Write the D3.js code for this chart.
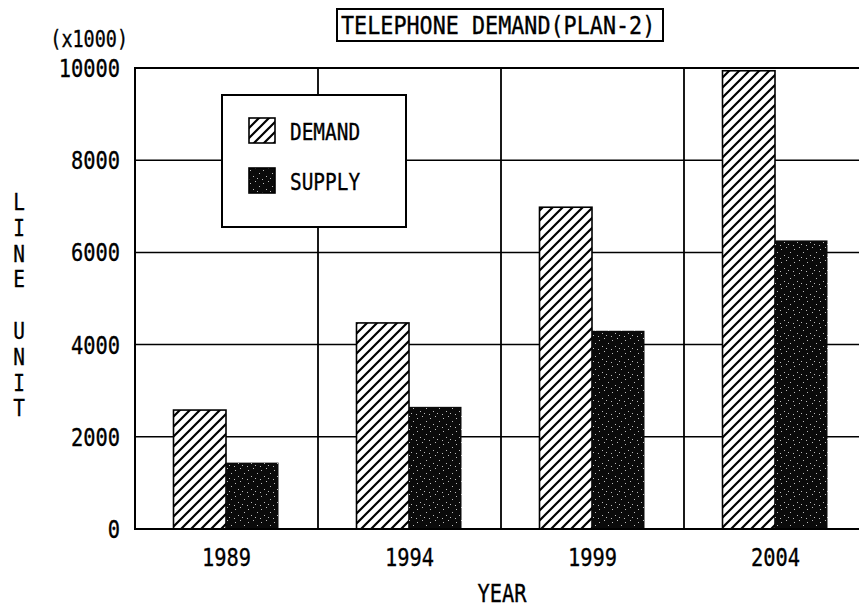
<!DOCTYPE html>
<html>
<head>
<meta charset="utf-8">
<script src="https://cdn.jsdelivr.net/npm/d3@7"></script>
<style>
  body { margin: 0; background: #fff; }
  text { font-family: "DejaVu Sans Mono", monospace; fill: #000; stroke: #000; stroke-width: 0.3; }
</style>
</head>
<body>
<svg id="chart" width="859" height="606"></svg>
<script>
// values (x1000 line units)
var years = ["1989", "1994", "1999", "2004"];
var demand = [2580, 4470, 6980, 9940];
var supply = [1440, 2650, 4300, 6260];
var yTicks = [0, 2000, 4000, 6000, 8000, 10000];
var seriesNames = ["DEMAND", "SUPPLY"];

var svg = d3.select("#chart");

var x = d3.scaleBand().domain(years).range([135, 867]);
var xi = d3.scaleBand().domain(["d", "s"]).range([38.5, 143.5]);
var y = d3.scaleLinear().domain([0, 10000]).range([529, 68]);

// plotter text is tall and narrow, stretch it a bit
function tall(sel, sx, sy) {
  return sel.attr("transform", function(d, i) {
    var px = typeof sx == "function" ? sx(d, i) : sx;
    var py = typeof sy == "function" ? sy(d, i) : sy;
    return "translate(" + px + "," + py + ") scale(0.97,1.18)";
  });
}

// patterns
var defs = svg.append("defs");
var hatch = defs.append("pattern")
  .attr("id", "hatch")
  .attr("patternUnits", "userSpaceOnUse")
  .attr("width", 10).attr("height", 10);
hatch.append("rect").attr("width", 10).attr("height", 10).attr("fill", "#fff");
hatch.append("path")
  .attr("d", "M0,10 L10,0 M-3,3 L3,-3 M7,13 L13,7")
  .attr("stroke", "#000").attr("stroke-width", 2.2);

var dots = defs.append("pattern")
  .attr("id", "dots")
  .attr("patternUnits", "userSpaceOnUse")
  .attr("width", 13).attr("height", 13);
dots.append("rect").attr("width", 13).attr("height", 13).attr("fill", "#0a0a0a");
[[1, 2], [6, 0], [10, 5], [4, 8], [0, 11], [8, 10]].forEach(function(p) {
  dots.append("rect").attr("x", p[0]).attr("y", p[1])
    .attr("width", 1).attr("height", 1).attr("fill", "#bbb");
});

// grid
svg.append("g").selectAll("line")
  .data(yTicks.filter(function(d) { return d > 0; }))
  .join("line")
  .attr("x1", 135).attr("x2", 867)
  .attr("y1", function(d) { return y(d); })
  .attr("y2", function(d) { return y(d); })
  .attr("stroke", "#000")
  .attr("stroke-width", function(d) { return d == 10000 ? 2 : 1.5; });

svg.append("g").selectAll("line")
  .data(years.slice(1))
  .join("line")
  .attr("x1", function(d) { return x(d); })
  .attr("x2", function(d) { return x(d); })
  .attr("y1", 68).attr("y2", 529)
  .attr("stroke", "#000").attr("stroke-width", 1.8);

// bars
var bars = svg.append("g");
bars.selectAll(".demand")
  .data(demand)
  .join("rect")
  .attr("class", "demand")
  .attr("x", function(d, i) { return x(years[i]) + xi("d"); })
  .attr("width", xi.bandwidth())
  .attr("y", function(d) { return y(d); })
  .attr("height", function(d) { return y(0) - y(d); })
  .attr("fill", "url(#hatch)")
  .attr("stroke", "#000").attr("stroke-width", 1.6);

bars.selectAll(".supply")
  .data(supply)
  .join("rect")
  .attr("class", "supply")
  .attr("x", function(d, i) { return x(years[i]) + xi("s"); })
  .attr("width", xi.bandwidth())
  .attr("y", function(d) { return y(d); })
  .attr("height", function(d) { return y(0) - y(d); })
  .attr("fill", "url(#dots)");

// axes lines
svg.append("line").attr("x1", 135).attr("x2", 135).attr("y1", 67).attr("y2", 530)
  .attr("stroke", "#000").attr("stroke-width", 2);
svg.append("line").attr("x1", 134).attr("x2", 867).attr("y1", 529).attr("y2", 529)
  .attr("stroke", "#000").attr("stroke-width", 2);

// y tick labels
tall(svg.append("g").selectAll("text")
  .data(yTicks)
  .join("text")
  .attr("dy", "0.36em")
  .attr("text-anchor", "end")
  .style("font-size", "21px")
  .text(function(d) { return d; }), 120, function(d) { return y(d); });

tall(svg.append("text")
  .attr("text-anchor", "end")
  .style("font-size", "19px")
  .text("(x1000)"), 128, 47);

// x tick labels
tall(svg.append("g").selectAll("text")
  .data(years)
  .join("text")
  .attr("text-anchor", "middle")
  .style("font-size", "21px")
  .text(function(d) { return d; }), function(d) { return x(d) + x.bandwidth() / 2; }, 566);

tall(svg.append("text")
  .attr("text-anchor", "middle")
  .style("font-size", "21px")
  .text("YEAR"), 502, 602);

// y axis title, stacked letters
var yLetters = "LINE UNIT".split("");
tall(svg.append("g").selectAll("text")
  .data(yLetters)
  .join("text")
  .attr("text-anchor", "middle")
  .style("font-size", "20px")
  .text(function(d) { return d; }), 19, function(d, i) { return 210 + i * 25.8; });

// title
svg.append("rect").attr("x", 337).attr("y", 9).attr("width", 326).attr("height", 32)
  .attr("fill", "#fff").attr("stroke", "#000").attr("stroke-width", 2);
tall(svg.append("text")
  .attr("textLength", 324).attr("lengthAdjust", "spacingAndGlyphs")
  .style("font-size", "21px")
  .text("TELEPHONE DEMAND(PLAN-2)"), 341, 34);

// legend
var lg = svg.append("g");
lg.append("rect").attr("x", 222).attr("y", 95).attr("width", 184).attr("height", 132)
  .attr("fill", "#fff").attr("stroke", "#000").attr("stroke-width", 2);
var items = lg.selectAll("g.item")
  .data(seriesNames)
  .join("g")
  .attr("class", "item")
  .attr("transform", function(d, i) { return "translate(249," + (118 + i * 50) + ")"; });
items.append("rect")
  .attr("width", 26).attr("height", 25)
  .attr("fill", function(d, i) { return i == 0 ? "url(#hatch)" : "url(#dots)"; })
  .attr("stroke", "#000").attr("stroke-width", 1.6);
tall(items.append("text")
  .style("font-size", "20px")
  .text(function(d) { return d; }), 41, 22);
</script>
</body>
</html>
